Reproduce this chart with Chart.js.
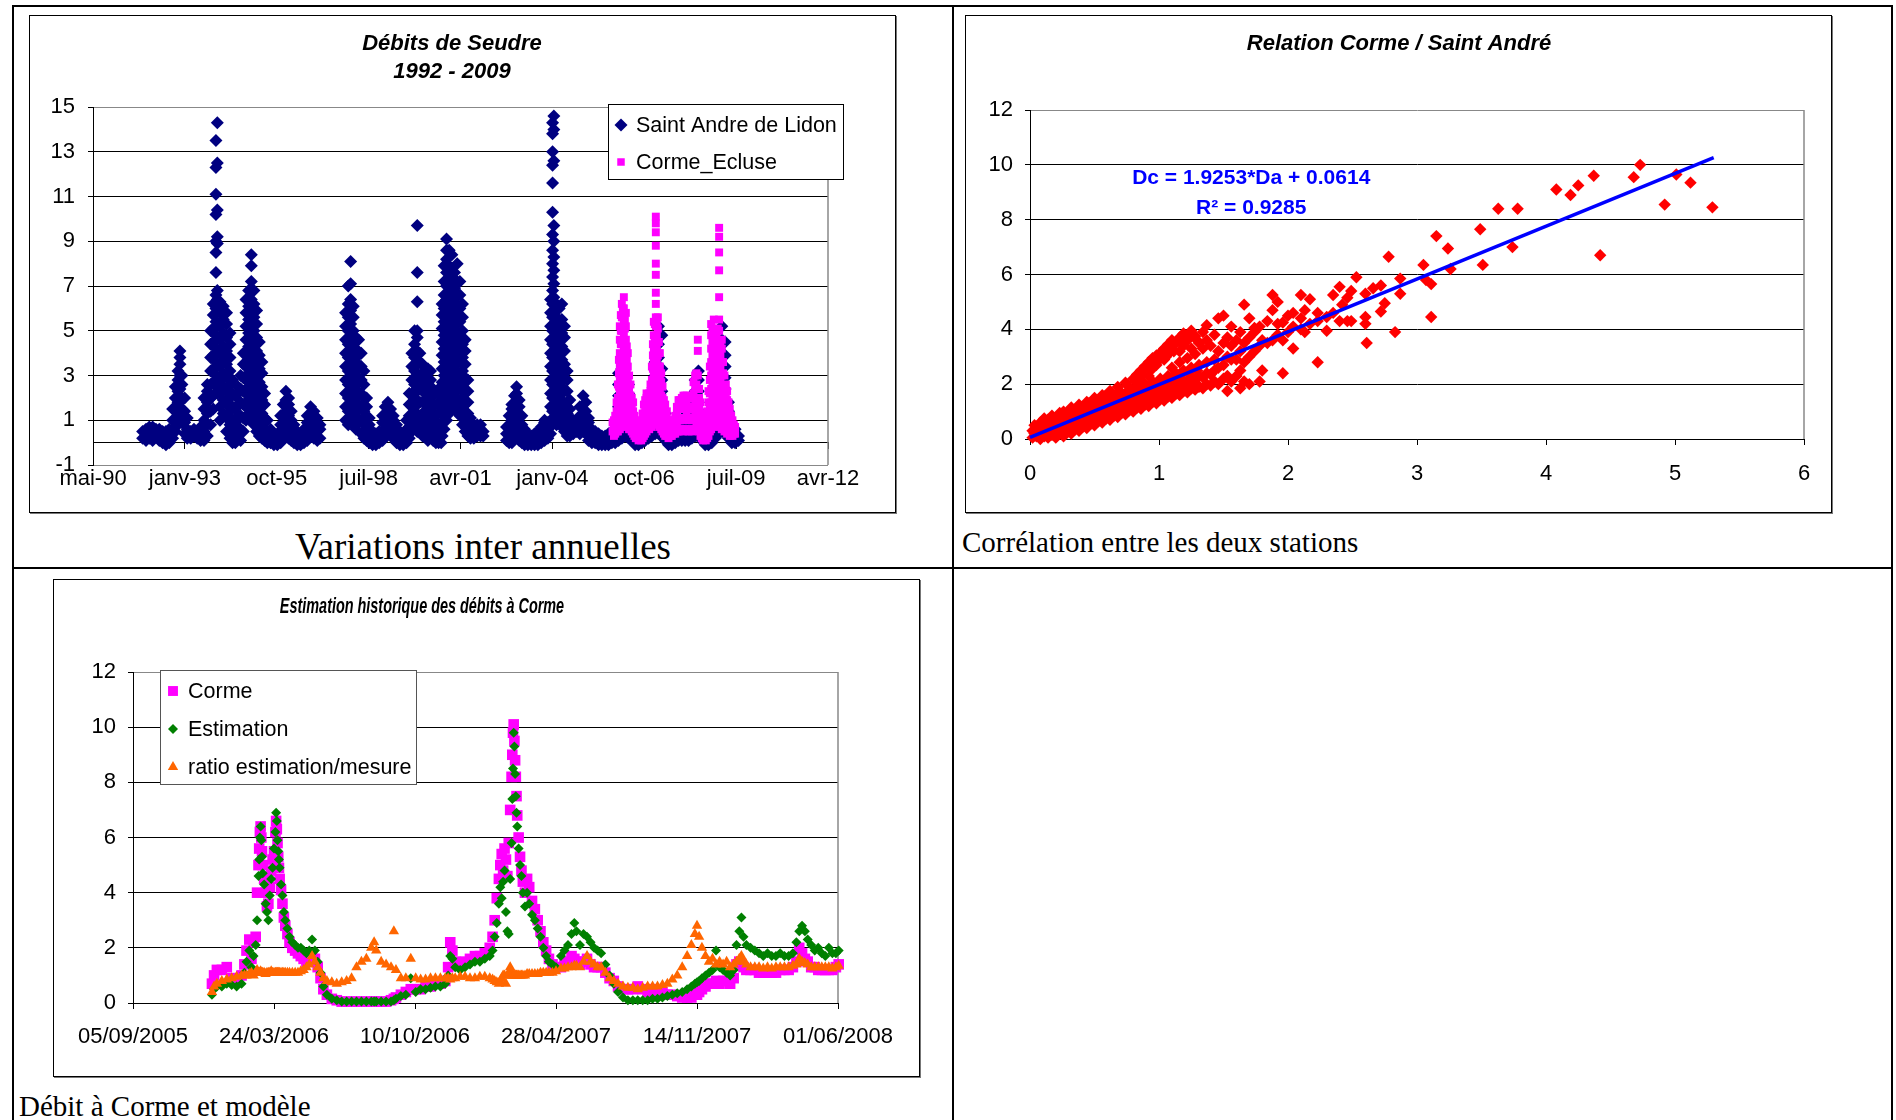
<!DOCTYPE html>
<html><head><meta charset="utf-8">
<script src="https://cdn.jsdelivr.net/npm/chart.js@4/dist/chart.umd.min.js"></script>
<style>
html,body{margin:0;padding:0;background:#fff}
body{position:relative;width:1896px;height:1120px;overflow:hidden}
.ln{position:absolute;background:#000}
.box{position:absolute;border:1px solid #000;box-shadow:1px 1px 0 #777;background:#fff}
canvas{position:absolute}
.cap{position:absolute;font-family:'Liberation Serif','Times New Roman',serif;color:#000;white-space:nowrap;line-height:1}
</style></head><body>
<div class="ln" style="left:12px;top:5px;width:1881px;height:2px"></div>
<div class="ln" style="left:12px;top:5px;width:2px;height:1115px"></div>
<div class="ln" style="left:952px;top:5px;width:2px;height:1115px"></div>
<div class="ln" style="left:1891px;top:5px;width:2px;height:1115px"></div>
<div class="ln" style="left:12px;top:567px;width:1881px;height:2px"></div>

<div class="box" style="left:29px;top:15px;width:865px;height:496px"></div>
<canvas id="c1" width="865" height="496" style="left:30px;top:16px"></canvas>
<div class="box" style="left:965px;top:15px;width:865px;height:496px"></div>
<canvas id="c2" width="865" height="496" style="left:966px;top:16px"></canvas>
<div class="box" style="left:53px;top:579px;width:865px;height:496px"></div>
<canvas id="c3" width="865" height="496" style="left:54px;top:580px"></canvas>

<div class="cap" style="left:14px;width:938px;top:528px;text-align:center;font-size:37px">Variations inter annuelles</div>
<div class="cap" style="left:962px;top:528px;font-size:29px">Corrélation entre les deux stations</div>
<div class="cap" style="left:19px;top:1092px;font-size:29px">Débit à Corme et modèle</div>

<script>
// ---------- Chart 1 : Débits de Seudre (x = Excel day serial) ----------
const labels1 = ['mai-90','janv-93','oct-95','juil-98','avr-01','janv-04','oct-06','juil-09','avr-12'];
// [date serial, flows observed around that date]
const sadSeries = [
[33540,[0.2,0.5]],[33577,[0.1,0.4,0.6]],[33613,[0.2,0.5,0.7]],[33649,[0.1,0.4,0.7]],[33685,[0.3,0.6]],
[33722,[0.1,0.4,0.6]],[33758,[0.0,0.3,0.5]],[33794,[-0.1,0.2,0.5]],[33830,[0.0,0.3,0.6]],[33867,[0.2,0.6,1.0,1.5]],
[33896,[0.5,1.0,1.5,2.0,2.5]],[33925,[0.8,1.3,1.8,2.3,2.8,3.2]],[33946,[1.2,1.8,2.4,3.0,3.5,3.8,4.1]],[33968,[0.9,1.5,2.0,2.6,3.0]],[33997,[0.4,0.9,1.4,2.0]],
[34026,[0.2,0.6,1.1]],[34063,[0.2,0.5]],[34099,[0.3,0.6]],[34135,[0.2,0.5]],[34171,[0.1,0.4,0.7]],
[34208,[0.1,0.5,1.0,1.5,2.0]],[34244,[0.3,0.8,1.3,1.8,2.3,2.6]],[34280,[0.8,1.4,2.0,2.6,3.2,3.8,4.4,5.0]],[34309,[1.5,2.1,2.7,3.3,3.9,4.5,5.1,5.7,6.2]],
[34338,[2.5,3.0,3.6,4.2,4.8,5.4,6.0,6.6,7.6,8.5,9.0,10.2,11.1,12.3,13.5]],
[34353,[2.2,2.8,3.4,4.0,4.6,5.2,5.8,6.4,6.8,8.9,9.2,10.4,12.5,14.3]],
[34382,[1.0,1.6,2.2,2.8,3.4,4.0,4.6,5.2,5.8,6.3]],[34418,[1.3,1.9,2.5,3.1,3.7,4.3,4.9,5.5,6.1]],[34454,[0.5,1.1,1.7,2.3,2.9,3.5,4.1,4.7,5.3,5.8]],
[34491,[0.2,0.8,1.4,2.0,2.6,3.2,3.8,4.4,4.9]],[34519,[0.0,0.5,1.0,1.6,2.2,2.8]],[34549,[0.0,0.4,0.9,1.5,2.1]],[34578,[0.2,0.7,1.2,1.7,2.2,2.5]],
[34607,[0.1,0.6,1.2,1.8,2.4,3.0]],[34636,[0.5,1.1,1.7,2.3,2.9,3.5,4.0]],[34665,[1.0,1.6,2.2,2.8,3.4,4.0,4.6,5.2,5.8,6.4]],
[34694,[1.3,1.9,2.5,3.1,3.7,4.3,4.9,5.5,6.1,6.8]],[34723,[1.0,1.6,2.2,2.8,3.4,4.0,4.6,5.2,5.8,6.4,7.2,7.9,8.4]],
[34752,[0.8,1.4,2.0,2.6,3.2,3.8,4.4,5.0,5.6,6.2,6.8]],[34781,[0.5,1.1,1.7,2.3,2.9,3.5,4.1,4.7,5.3,5.9]],
[34810,[0.3,0.9,1.5,2.1,2.7,3.3,3.9,4.5]],[34839,[0.2,0.7,1.3,1.9,2.5,3.1,3.6]],[34868,[0.1,0.6,1.1,1.7,2.2]],
[34897,[0.0,0.5,1.0]],[34933,[0.0,0.3,0.6]],[34969,[-0.1,0.2,0.4]],[35006,[-0.1,0.2,0.4]],[35042,[0.0,0.4,0.8,1.2]],
[35071,[0.2,0.7,1.2,1.7]],[35100,[0.4,0.9,1.4,1.9,2.3]],[35129,[0.2,0.7,1.2,1.7,2.0]],[35158,[0.1,0.5,1.0,1.4]],[35187,[0.0,0.4,0.8]],
[35223,[-0.1,0.2,0.5]],[35259,[-0.1,0.2,0.4]],[35296,[0.0,0.3,0.6]],[35332,[0.1,0.5,0.9,1.2]],[35368,[0.3,0.8,1.3,1.6]],
[35405,[0.2,0.6,1.0,1.4]],[35441,[0.1,0.5,0.9,1.1]],[35470,[0.2,0.6,0.8]],
[35749,[1.0,1.6,2.2,2.8,3.4,4.0,4.6,5.2,5.8]],[35778,[0.8,1.4,2.0,2.6,3.2,3.8,4.4,5.0,5.6,6.2,7.0]],
[35804,[1.1,1.7,2.3,2.9,3.5,4.1,4.7,5.3,5.9,6.4,7.1,8.1]],[35833,[0.8,1.4,2.0,2.6,3.2,3.8,4.4,5.0,5.6,6.1]],
[35862,[0.6,1.2,1.8,2.4,3.0,3.6,4.2,4.7]],[35891,[0.9,1.5,2.1,2.7,3.3,3.9,4.6]],[35920,[0.4,1.0,1.6,2.2,2.8,3.4,4.0]],
[35949,[0.2,0.8,1.4,2.0,2.6,3.2]],[35978,[0.1,0.6,1.1,1.6,2.0]],[36007,[0.0,0.4,0.8,1.1]],[36043,[-0.1,0.2,0.5]],[36079,[-0.1,0.2,0.4]],
[36115,[0.0,0.3,0.5]],[36152,[0.1,0.5,0.9,1.2]],[36181,[0.3,0.8,1.2,1.6]],[36210,[0.4,0.9,1.4,1.8]],[36239,[0.3,0.7,1.1,1.5]],
[36268,[0.2,0.6,1.0,1.2]],[36304,[0.0,0.4,0.8]],[36340,[-0.1,0.2,0.5]],[36377,[-0.1,0.2,0.4]],[36413,[0.0,0.3,0.6,1.0]],
[36442,[0.2,0.7,1.2,1.7,2.2]],[36471,[0.5,1.0,1.6,2.2,2.8,3.4,4.0]],[36500,[0.8,1.4,2.0,2.6,3.2,3.8,4.4,5.0]],
[36529,[0.5,1.1,1.7,2.3,2.9,3.5,4.1,4.7,5.0,6.3,7.6,9.7]],[36558,[0.6,1.2,1.8,2.4,3.0,3.6,4.0]],[36587,[0.3,0.8,1.3,1.8,2.3,2.8,3.5]],
[36616,[0.4,0.9,1.4,1.9,2.4,2.9,3.3]],[36645,[0.1,0.6,1.1,1.6,2.1,2.6,3.3]],[36674,[0.3,0.8,1.3,1.8,2.3,2.8,3.2]],
[36703,[0.1,0.6,1.1,1.6,2.1,2.4]],[36732,[0.0,0.4,0.8,1.2]],[36761,[0.0,0.4,0.8,1.3,1.8,2.4]],[36790,[0.0,0.5,2.05]],
[36800,[0.3,0.9,1.5,2.1,2.7,3.3,3.9,4.5,5.1,5.7,6.2]],[36822,[0.6,1.2,1.8,2.4,3.0,3.6,4.2,4.8,5.4,6.0,6.6,7.2,7.9]],
[36848,[1.0,1.6,2.2,2.8,3.4,4.0,4.6,5.2,5.8,6.4,7.0,7.6,8.2,8.6,9.1]],[36877,[1.3,1.9,2.5,3.1,3.7,4.3,4.9,5.5,6.1,6.7,7.3,7.9,8.6]],
[36906,[1.8,2.4,3.0,3.6,4.2,4.8,5.4,6.0,6.6,7.2,7.8,8.4]],[36935,[1.5,2.1,2.7,3.3,3.9,4.5,5.1,5.7,6.3,6.9,7.6]],
[36964,[1.8,2.4,3.0,3.6,4.2,4.8,5.4,6.0,6.6,7.2,8.0]],[36993,[1.2,1.8,2.4,3.0,3.6,4.2,4.8,5.4,6.0,6.6,7.2]],
[37022,[0.8,1.4,2.0,2.6,3.2,3.8,4.4,5.0,5.6,6.2]],[37051,[0.5,1.1,1.7,2.3,2.9,3.5,4.1,4.6]],[37080,[0.3,0.8,1.3,1.8,2.3,2.8]],
[37109,[0.2,0.5,0.8,1.1]],[37145,[0.2,0.5,0.8]],[37182,[0.3,0.6,0.8]],[37218,[0.3,0.6,0.8]],[37247,[0.3,0.5]],
[37501,[0.1,0.4,0.7]],[37530,[0.0,0.4,0.8,1.2]],[37559,[0.0,0.5,1.0,1.5,1.7]],[37588,[0.2,0.7,1.2,1.7,2.1]],[37610,[0.3,0.8,1.3,1.8,2.2,2.5]],
[37639,[0.1,0.6,1.1,1.6,1.9]],[37668,[0.0,0.4,0.8,1.2]],[37697,[-0.1,0.3,0.6]],[37733,[-0.1,0.2,0.4]],[37770,[-0.1,0.1,0.3]],
[37806,[-0.1,0.2,0.4]],[37842,[-0.1,0.2,0.5]],[37878,[0.0,0.4,0.7]],[37915,[0.1,0.5,0.9,1.0]],[37951,[0.2,0.6,0.9]],
[37980,[0.4,1.0,1.6,2.2,2.8,3.4,4.0,4.6,5.2,5.8,6.4]],
[38002,[0.8,1.4,2.0,2.6,3.2,3.8,4.4,5.0,5.6,6.2,6.8,7.4,8.0,8.6,9.3,10.3,11.6,12.4,13.0,13.8,14.3]],
[38016,[1.1,1.7,2.3,2.9,3.5,4.1,4.7,5.3,5.9,6.5,7.1,7.7,8.3,9.0,9.7,12.6,14.0,14.6]],
[38045,[0.8,1.4,2.0,2.6,3.2,3.8,4.4,5.0,5.6,6.2]],[38074,[1.1,1.7,2.3,2.9,3.5,4.1,4.7,5.3,6.0]],[38103,[0.7,1.3,1.9,2.5,3.1,3.7,4.3,4.9,5.5,6.2]],
[38132,[0.5,1.1,1.7,2.3,2.9,3.5,4.1,4.7,5.2]],[38161,[0.3,0.8,1.3,1.8,2.3,2.8,3.2]],[38190,[0.3,0.7,1.1,1.5,1.9]],[38227,[0.4,0.7,1.0]],[38263,[0.5,0.8,1.0]],
[38299,[0.4,0.8,1.2,1.6]],[38335,[0.5,1.0,1.5,2.1]],[38364,[0.4,0.9,1.4,1.8]],[38393,[0.1,0.5,0.9,1.1]],[38430,[0.0,0.3,0.6]],
[38466,[0.0,0.3,0.5]],[38502,[-0.1,0.2,0.4]],[38538,[-0.1,0.1,0.3]],[38575,[-0.1,0.1,0.3]],[38611,[-0.1,0.2,0.4]],
[38647,[0.0,0.3,0.5]],[38684,[0.0,0.3,0.6]],[38720,[0.1,0.6,1.1,1.6,2.1,2.6,3.1]],[38756,[0.2,0.7,1.2,1.7,2.2,2.7,3.3]],[38792,[0.3,0.8,1.3,1.8,2.3,2.8]],
[38829,[0.2,0.7,1.2,1.7,2.2,2.6]],[38865,[0.1,0.5,0.9,1.3]],[38901,[-0.1,0.2,0.5]],[38937,[-0.1,0.2,0.4]],[38974,[0.0,0.3,0.6]],
[39010,[0.1,0.5,0.9]],[39046,[0.2,0.6,1.0,1.3]],[39083,[0.3,0.8,1.3,1.8,2.3]],[39119,[0.4,0.9,1.4,1.9,2.4,3.0,3.6]],[39155,[0.4,0.9,1.4,2.0,2.6,3.2,3.8,4.4,5.2]],
[39191,[0.3,0.8,1.3,1.8,2.3,2.8,3.3,4.8]],[39228,[0.1,0.5,0.9,1.3]],[39264,[-0.1,0.2,0.5]],[39300,[-0.1,0.2,0.4]],[39337,[0.0,0.3,0.6]],
[39373,[0.1,0.4,0.7]],[39409,[0.1,0.5,0.9]],[39445,[0.1,0.5,0.9,1.2]],[39482,[0.1,0.5,0.9,1.3]],[39518,[0.2,0.6,1.0,1.5,2.0]],
[39554,[0.3,0.8,1.3,1.8,2.3,2.8]],[39590,[0.3,0.8,1.3,1.8,2.3,2.8,3.2]],[39627,[0.1,0.5,0.9,1.3]],[39663,[-0.1,0.2,0.5]],[39699,[-0.1,0.2,0.5]],
[39735,[0.0,0.4,0.8,1.2]],[39772,[0.2,0.7,1.2,1.7,2.2,2.7]],[39808,[0.4,0.9,1.4,1.9,2.4,2.9,3.4,4.0]],[39844,[0.5,1.0,1.5,2.0,2.5,3.0,3.5,4.0,4.6,5.2]],
[39880,[0.4,0.9,1.4,1.9,2.4,2.9,3.4,3.9,4.5]],[39917,[0.2,0.6,1.0,1.4,1.8]],[39953,[0.0,0.4,0.8]],[39989,[0.0,0.3,0.6]],[40026,[0.1,0.3]]
];
const cormeSeries = [
[38655,[0.5,0.9]],[38670,[0.3,0.7,1.0]],[38684,[0.4,0.8,1.2]],[38699,[0.5,0.9,1.4,1.8]],[38713,[0.5,1.0,1.5,2.0,2.6]],[38724,[0.7,1.3,1.9,2.5,3.1,3.7]],
[38734,[0.6,1.1,1.6,2.2,2.8,3.4,4.0,4.6,5.2]],[38745,[0.8,1.4,2.0,2.6,3.2,3.8,4.4,5.0,5.7]],
[38756,[1.0,1.5,2.0,2.6,3.2,3.8,4.4,5.0,5.6,6.2]],[38767,[0.8,1.4,2.0,2.6,3.2,3.8,4.4,5.0,5.6,6.0]],[38778,[1.2,1.8,2.4,3.0,3.6,4.2,4.8,5.4,6.0,6.5]],
[38789,[0.9,1.5,2.1,2.7,3.3,3.9,4.5,5.1,5.5]],[38800,[1.0,1.6,2.2,2.8,3.4,4.0,4.6,5.2,5.8]],[38810,[0.7,1.3,1.9,2.5,3.1,3.7,4.3]],
[38821,[0.8,1.3,1.8,2.3,2.8,3.4,4.0]],[38835,[0.6,1.2,1.8,2.4,3.0]],[38850,[0.6,1.1,1.6,2.1,2.6]],[38864,[0.5,1.0,1.5,2.0]],[38879,[0.4,0.9,1.4,1.8]],
[38893,[0.3,0.7,1.2]],[38908,[0.2,0.6,1.0]],[38923,[0.2,0.5,0.8]],[38938,[0.1,0.4,0.7]],[38952,[0.2,0.5,0.8]],
[38967,[0.1,0.5,0.8]],[38982,[0.2,0.6,1.0,1.3]],[38996,[0.3,0.8,1.3,1.7]],[39010,[0.4,0.9,1.4,1.9]],[39025,[0.5,1.0,1.5,2.0,2.2]],[39040,[0.7,1.2,1.7,2.1]],
[39054,[0.6,1.1,1.6,2.0,2.2]],[39068,[0.8,1.3,1.8,2.3,2.6]],[39083,[0.7,1.2,1.7,2.2,2.8,3.4]],[39094,[0.9,1.5,2.1,2.7,3.3,3.9,4.4]],
[39104,[0.8,1.3,1.8,2.4,3.0,3.6,4.2,4.8,5.4]],[39115,[1.1,1.7,2.3,2.9,3.5,4.1,4.7,5.3]],
[39126,[1.0,1.6,2.2,2.8,3.4,4.0,4.6,5.2,5.6,6.2,6.7,7.5,8.0,8.8,9.4,9.8,10.1]],[39137,[1.2,1.8,2.4,3.0,3.6,4.2,4.8,5.4]],
[39148,[0.9,1.5,2.1,2.7,3.3,3.9,4.5,5.1,5.6]],[39159,[1.0,1.6,2.2,2.8,3.4,4.0,4.5]],[39170,[0.7,1.2,1.7,2.2,2.8,3.4,4.0]],[39185,[0.6,1.1,1.6,2.1,2.7,3.1]],
[39199,[0.5,1.0,1.5,2.0,2.5]],[39214,[0.4,0.9,1.4,1.9]],[39228,[0.3,0.8,1.3,1.7]],[39246,[0.3,0.7,1.1,1.4]],
[39264,[0.2,0.6,1.0]],[39282,[0.3,0.6,0.9]],[39300,[0.3,0.6,0.9]],[39318,[0.4,0.7,1.0]],[39337,[0.4,0.8,1.2]],[39355,[0.5,0.9,1.3,1.6]],
[39373,[0.5,1.0,1.5,1.9]],[39391,[0.6,1.0,1.5,1.9]],[39409,[0.6,1.1,1.6,2.0]],[39427,[0.5,1.0,1.5,2.1]],[39445,[0.6,1.1,1.6,2.1]],[39463,[0.6,1.2,1.7,2.1]],
[39482,[0.5,1.0,1.5,2.0]],[39500,[0.6,1.1,1.6,2.0]],[39518,[0.5,1.0,1.5,2.0]],[39536,[0.6,1.1,1.6,2.2,2.7]],[39554,[0.6,1.2,1.8,2.4,3.0]],[39568,[0.8,1.4,2.0,2.6,3.1]],
[39583,[0.6,1.2,1.8,2.4,3.0,4.1,4.6]],[39597,[0.5,1.0,1.5,2.0,2.4]],[39612,[0.3,0.8,1.3,1.8]],[39626,[0.2,0.6,1.0,1.3]],
[39641,[0.1,0.5,0.9]],[39655,[0.2,0.5,0.8]],[39670,[0.1,0.4,0.7]],[39685,[0.2,0.6,1.0,1.4]],[39699,[0.3,0.8,1.3,1.8,2.3]],[39714,[0.5,1.0,1.6,2.2,2.8,3.4]],
[39728,[0.6,1.2,1.8,2.4,3.0,3.6,4.2,4.8,5.3]],[39742,[0.9,1.5,2.1,2.7,3.3,3.9,4.5,5.1]],[39757,[0.8,1.4,2.0,2.6,3.2,3.8,4.4,5.0,5.5]],[39771,[1.0,1.6,2.2,2.8,3.4,4.0,4.6]],
[39786,[0.7,1.3,1.9,2.5,3.1,3.7,4.3,4.8]],[39800,[0.9,1.5,2.1,2.7,3.3,3.9,4.5,5.1]],[39815,[0.8,1.4,2.0,2.6,3.2,3.8,4.4,5.0,5.5,6.5,7.7,8.5,9.2,9.6]],
[39829,[0.9,1.5,2.1,2.7,3.3,3.9,4.4]],[39844,[0.6,1.2,1.8,2.4,3.0,3.6,4.2,4.6]],[39858,[0.7,1.3,1.9,2.5,3.1,3.6]],
[39873,[0.5,1.0,1.5,2.0,2.5,3.0]],[39888,[0.6,1.1,1.6,2.1,2.6]],[39902,[0.4,0.9,1.4,1.9,2.3]],[39917,[0.5,0.9,1.3,1.8]],[39931,[0.3,0.7,1.1,1.5]],
[39946,[0.4,0.8,1.2]],[39960,[0.3,0.6,1.0]],[39975,[0.4,0.8]],[39989,[0.4,0.7]]
];

// ---------- Chart 2 : Relation Corme / Saint André ----------
// [Da (Saint André), Dc values (Corme) read at that Da]
const corrSeries = [
[0.02,[0.05,0.3]],[0.05,[0.1,0.45]],[0.08,[0.0,0.3,0.6]],[0.11,[0.1,0.45,0.75]],[0.14,[0.05,0.35,0.7]],
[0.17,[0.15,0.5,0.85]],[0.2,[0.05,0.4,0.75]],[0.23,[0.2,0.55,0.95]],[0.26,[0.1,0.45,0.8,1.0]],[0.29,[0.25,0.6,0.95]],
[0.32,[0.2,0.55,0.9,1.15]],[0.35,[0.35,0.7,1.05]],[0.38,[0.3,0.65,1.0,1.25]],[0.41,[0.45,0.8,1.15]],[0.44,[0.4,0.75,1.1,1.35]],
[0.47,[0.55,0.9,1.25]],[0.5,[0.5,0.85,1.2,1.5]],[0.53,[0.65,1.0,1.35]],[0.56,[0.6,0.95,1.3,1.6]],[0.59,[0.75,1.1,1.45]],
[0.62,[0.7,1.05,1.4,1.75]],[0.65,[0.85,1.2,1.55]],[0.68,[0.8,1.15,1.5,1.9]],[0.71,[0.95,1.3,1.65]],[0.74,[0.9,1.25,1.6,2.05]],
[0.77,[1.05,1.4,1.8]],[0.8,[1.0,1.35,1.7,2.2]],[0.83,[1.15,1.5,1.9,2.35]],[0.86,[1.1,1.45,1.8,2.15,2.5]],[0.89,[1.25,1.6,2.0,2.65]],
[0.92,[1.2,1.55,1.9,2.3,2.8]],[0.95,[1.35,1.7,2.1,2.95]],[0.98,[1.3,1.65,2.0,2.7,3.05]],[1.01,[1.45,1.8,2.2,3.15]],[1.04,[1.4,1.75,2.1,2.9,3.3]],
[1.07,[1.55,1.9,2.3,3.1,3.45]],[1.1,[1.5,1.85,2.2,2.6,3.3,3.6]],[1.13,[1.65,2.0,2.4,3.5]],[1.16,[1.6,1.95,2.35,2.8,3.2,3.7]],[1.19,[1.75,2.1,2.5,3.4,3.85]],
[1.22,[1.7,2.05,2.45,2.95,3.6]],[1.25,[1.85,2.2,2.6,3.3,3.95]],[1.28,[1.8,2.15,3.1,3.75]],[1.31,[1.9,2.3,2.7,3.5]],[1.34,[1.85,2.25,3.3,3.9]],
[1.37,[2.0,2.4,2.8,3.6,4.15]],[1.4,[1.95,2.35,3.4]],[1.43,[2.1,2.5,2.9,3.8]],[1.46,[2.0,2.6,3.2,4.4]],[1.5,[2.2,2.7,3.5,4.5]],
[1.53,[1.75,2.3,3.0,3.7]],[1.56,[2.1,2.9,3.4,4.1]],[1.6,[2.3,2.9,3.6]],[1.63,[1.85,2.5,3.2,3.9]],[1.66,[2.1,2.8,3.5,4.9]],
[1.7,[2.0,3.0,3.7,4.4]],[1.74,[3.2,3.9,4.05]],[1.78,[2.1,3.4,4.1]],[1.8,[2.5,3.6]],[1.84,[3.5,4.3]],
[1.88,[3.6,4.7,5.25]],[1.92,[3.8,4.2,5.0]],[1.96,[2.4,3.6,4.25]],[2.0,[3.9,4.5]],[2.04,[3.3,4.1,4.6]],
[2.1,[4.0,4.4,5.25]],[2.13,[3.9,4.7]],[2.17,[4.2,5.1]],[2.23,[2.8,4.3,4.6]],[2.3,[3.95,4.45]],
[2.35,[4.6,5.25]],[2.4,[4.3,5.55]],[2.42,[4.9]],[2.46,[4.3,5.15]],[2.49,[4.3,5.4]],
[2.53,[5.9]],[2.6,[4.2,4.45,5.3]],[2.61,[3.5]],[2.66,[5.5]],[2.72,[4.65,5.6]],
[2.75,[4.95]],[2.78,[6.65]],[2.83,[3.9]],[2.87,[5.3,5.85]],[3.05,[6.35]],
[3.07,[5.8]],[3.11,[4.45,5.65]],[3.15,[7.4]],[3.24,[6.95]],[3.26,[6.2]],
[3.49,[7.65]],[3.51,[6.35]],[3.63,[8.4]],[3.74,[7.0]],[3.78,[8.4]],
[4.08,[9.1]],[4.19,[8.9]],[4.25,[9.25]],[4.37,[9.6]],[4.42,[6.7]],
[4.68,[9.55]],[4.73,[10.0]],[4.92,[8.55]],[5.01,[9.65]],[5.12,[9.35]],[5.29,[8.45]],
[0.035,[0.2,0.5]],[0.095,[0.15,0.5]],[0.155,[0.25,0.6]],[0.215,[0.3,0.65]],[0.275,[0.35,0.7]],[0.335,[0.4,0.75,1.0]],
[0.395,[0.5,0.85,1.15]],[0.455,[0.6,0.95,1.3]],[0.515,[0.7,1.05,1.4]],[0.575,[0.8,1.15,1.55]],[0.635,[0.9,1.25,1.65]],
[0.695,[1.0,1.35,1.75]],[0.755,[1.1,1.5,1.95]],[0.815,[1.2,1.6,2.1]],[0.875,[1.3,1.7,2.35]],[0.935,[1.4,1.8,2.5]],
[0.995,[1.5,1.9,2.85]],[1.055,[1.6,2.0,3.0]],[1.115,[1.7,2.1,3.2]],[1.175,[1.8,2.2,3.5]],[1.235,[1.9,2.35,3.7]],[1.295,[2.0,2.5,3.6]]
];
const trendSlope = 1.9253, trendIntercept = 0.0614;
const trendX = [0, 5.3];

// ---------- Chart 3 : Estimation historique des débits à Corme ----------
const labels3 = ['05/09/2005','24/03/2006','10/10/2006','28/04/2007','14/11/2007','01/06/2008'];
const dates3 = [
38712,38715,38719,38726,38733,38740,38747,38754,38758,38761,
38765,38768,38771,38774,38776,38778,38779,38780,38781,38782,
38783,38784,38786,38788,38790,38792,38794,38796,38798,38800,
38802,38803,38804,38805,38806,38807,38808,38810,38812,38814,
38816,38819,38822,38826,38830,38834,38838,38842,38846,38850,
38854,38858,38862,38866,38870,38875,38882,38889,38896,38903,
38910,38917,38924,38931,38938,38942,38945,38952,38959,38966,
38970,38973,38980,38987,38994,39001,39008,39015,39022,39029,
39036,39043,39047,39050,39053,39057,39064,39071,39078,39085,
39092,39099,39106,39110,39113,39116,39119,39121,39123,39125,
39127,39129,39131,39133,39135,39137,39138,39139,39140,39141,
39142,39143,39144,39145,39147,39149,39151,39153,39156,39159,
39162,39166,39170,39174,39178,39182,39186,39190,39195,39200,
39207,39212,39217,39222,39226,39229,39234,39239,39244,39249,
39254,39259,39264,39270,39276,39282,39288,39295,39302,39309,
39316,39323,39330,39337,39344,39351,39358,39365,39372,39379,
39386,39392,39397,39400,39403,39407,39412,39417,39422,39427,
39432,39437,39442,39447,39452,39456,39460,39463,39466,39470,
39476,39482,39488,39494,39500,39506,39512,39518,39524,39530,
39536,39541,39545,39549,39553,39557,39562,39567,39572,39577,
39582,39587,39592,39597,39601];
const corme3 = [
0.7,1.0,1.2,1.2,1.3,0.9,0.9,1.0,1.4,1.9,
2.3,1.6,2.2,2.4,4.0,5.0,5.6,6.2,6.4,6.0,
5.5,5.0,4.5,4.0,3.5,3.6,4.2,4.8,5.2,5.5,
6.2,6.6,6.3,5.8,5.3,4.9,4.5,4.1,3.6,3.1,
2.8,2.5,2.2,2.0,1.9,1.8,1.7,1.6,1.5,1.6,
1.8,1.6,1.3,0.9,0.5,0.3,0.15,0.1,0.05,0.05,
0.05,0.05,0.05,0.05,0.05,0.05,0.05,0.05,0.05,0.1,
0.15,0.2,0.3,0.4,0.5,0.5,0.5,0.6,0.6,0.7,
0.7,0.8,1.3,2.2,1.9,1.5,1.4,1.5,1.6,1.7,
1.7,1.8,2.0,2.4,3.0,3.8,4.5,5.0,5.4,4.8,
5.6,5.2,4.6,5.8,7.0,8.2,9.0,9.8,10.1,9.5,
8.8,8.2,7.5,6.8,6.0,5.3,4.8,4.4,4.0,4.5,
4.2,3.7,3.4,3.0,2.6,2.2,1.9,1.6,1.4,1.3,
1.3,1.4,1.5,1.7,1.6,1.5,1.4,1.5,1.6,1.4,
1.3,1.3,1.3,1.1,0.9,0.8,0.6,0.5,0.5,0.5,
0.6,0.5,0.4,0.5,0.4,0.4,0.3,0.3,0.25,0.2,
0.2,0.2,0.3,0.3,0.4,0.5,0.6,0.7,0.7,0.8,
0.7,0.8,0.8,0.7,0.9,1.4,1.5,1.4,1.3,1.2,
1.2,1.2,1.1,1.1,1.1,1.1,1.1,1.2,1.2,1.2,
1.3,1.5,2.0,1.8,1.6,1.5,1.3,1.3,1.2,1.2,
1.2,1.2,1.2,1.3,1.4];
const estim3 = [
0.3,0.5,0.6,0.6,0.7,0.65,0.6,0.7,1.1,1.5,
1.9,1.3,1.7,2.1,3.0,4.6,5.2,6.0,6.4,5.9,
5.3,4.7,4.3,3.6,3.3,3.0,3.9,4.5,4.9,5.6,
6.2,6.9,6.6,5.9,5.5,5.2,4.9,4.3,3.9,3.3,
3.0,2.7,2.4,2.2,2.1,2.0,2.0,1.9,1.8,1.9,
2.3,1.9,1.5,1.1,0.6,0.3,0.15,0.1,0.05,0.05,
0.05,0.05,0.05,0.05,0.05,0.05,0.05,0.05,0.05,0.05,
0.1,0.15,0.25,0.3,0.9,0.4,0.5,0.5,0.55,0.6,
0.6,0.7,1.0,1.7,1.6,1.3,1.2,1.3,1.4,1.5,
1.5,1.6,1.7,1.9,2.4,2.9,3.6,4.2,3.8,4.4,
4.8,3.3,2.6,2.5,4.5,5.8,7.4,8.5,9.8,9.3,
8.3,7.5,6.9,6.4,5.6,5.0,4.6,4.0,3.5,4.0,
3.6,3.2,3.0,2.7,2.4,2.0,1.7,1.5,1.4,1.3,
1.7,1.9,2.1,2.5,2.9,2.6,2.1,2.5,2.4,2.2,
2.0,1.9,1.8,1.4,1.0,0.7,0.4,0.2,0.1,0.1,
0.1,0.1,0.1,0.15,0.15,0.2,0.25,0.3,0.35,0.4,
0.5,0.6,0.7,0.75,0.8,0.9,1.0,1.1,1.2,1.9,
1.3,1.2,1.1,1.0,1.2,2.1,2.6,3.1,2.4,2.1,
2.0,1.9,1.8,1.7,1.8,1.7,1.7,1.8,1.7,1.7,
1.8,2.2,2.6,2.8,2.6,2.3,2.1,1.9,2.0,1.8,
1.7,2.0,1.8,1.8,1.9];
const ratio3 = [
0.4,0.6,0.7,0.8,0.85,0.9,0.95,1.0,1.0,1.0,
1.05,1.1,1.0,1.1,1.2,1.1,1.1,1.1,1.15,1.1,
1.1,1.1,1.1,1.05,1.1,1.1,1.1,1.15,1.1,1.1,
1.1,1.1,1.1,1.1,1.1,1.1,1.1,1.1,1.1,1.1,
1.1,1.1,1.1,1.1,1.1,1.1,1.15,1.2,1.3,1.4,
1.7,1.5,1.3,1.1,0.9,0.8,0.75,0.7,0.75,0.8,
0.9,1.3,1.5,1.6,2.0,2.2,1.9,1.5,1.4,1.3,
2.6,1.2,0.9,0.9,1.6,0.9,0.85,0.85,0.9,0.9,
0.9,0.9,0.9,0.85,0.9,0.9,0.95,0.95,0.9,0.9,
0.95,0.95,0.9,0.85,0.8,0.75,0.7,0.8,0.9,1.0,
1.0,0.7,1.0,1.1,1.3,1.1,1.0,1.0,1.0,1.0,
1.0,1.0,1.0,1.0,1.0,1.0,1.0,1.0,1.0,1.05,
1.05,1.05,1.05,1.05,1.1,1.1,1.1,1.1,1.1,1.15,
1.25,1.25,1.3,1.3,1.35,1.35,1.3,1.5,1.7,1.5,
1.4,1.3,1.3,1.1,0.9,0.8,0.7,0.6,0.55,0.55,
0.5,0.55,0.6,0.6,0.6,0.65,0.7,0.85,1.0,1.3,
1.7,2.1,2.5,2.8,2.4,2.0,1.7,1.5,1.6,1.4,
1.5,1.4,1.5,1.3,1.4,1.5,1.6,1.7,1.5,1.4,
1.3,1.3,1.3,1.25,1.3,1.25,1.3,1.3,1.3,1.3,
1.35,1.4,1.6,1.5,1.45,1.4,1.3,1.3,1.3,1.3,
1.3,1.3,1.25,1.3,1.35];

// ---------- helpers ----------
const F = "'Liberation Sans', Arial, Helvetica, sans-serif";
const columnsToPoints = s => s.flatMap(([x, vals]) => vals.map(y => ({x, y})));
const seriesToPoints = (xs, ys) => xs.map((x, i) => ({x, y: ys[i]}));

const plotFrame = {
  id: 'plotFrame',
  beforeDatasetsDraw(chart, args, o) {
    const {ctx, chartArea: a} = chart;
    ctx.save(); ctx.strokeStyle = o.color || '#888'; ctx.lineWidth = 1.5;
    ctx.beginPath(); ctx.moveTo(a.right, a.top); ctx.lineTo(a.right, a.bottom); ctx.stroke();
    ctx.restore();
  }
};
const boxLegend = {
  id: 'boxLegend',
  afterDatasetsDraw(chart, args, o) {
    if (!o || !o.rows) return;
    const ctx = chart.ctx;
    ctx.save();
    ctx.fillStyle = '#fff'; ctx.fillRect(o.x, o.y, o.w, o.h);
    ctx.strokeStyle = o.border; ctx.lineWidth = 1; ctx.strokeRect(o.x + 0.5, o.y + 0.5, o.w, o.h);
    ctx.font = o.font; ctx.textBaseline = 'middle'; ctx.textAlign = 'left';
    chart.data.datasets.forEach((ds, i) => {
      if (o.rows[i] === undefined) return;
      const y = o.y + o.rows[i];
      ctx.fillStyle = ds.pointBackgroundColor;
      Chart.helpers.drawPoint(ctx, {pointStyle: ds.pointStyle, radius: o.markerRadius ? o.markerRadius[i] : ds.pointRadius, borderWidth: 0, rotation: 0}, o.markerX, y);
      ctx.fillStyle = '#000';
      ctx.fillText(ds.label, o.textX, y + 1);
    });
    ctx.restore();
  }
};
const textTitle = {
  id: 'textTitle',
  afterDraw(chart, args, o) {
    if (!o || !o.lines) return;
    const ctx = chart.ctx;
    ctx.save(); ctx.font = o.font; ctx.fillStyle = '#000'; ctx.textAlign = 'center'; ctx.textBaseline = 'middle';
    o.lines.forEach((t, i) => {
      ctx.save(); ctx.translate(o.x, o.y + i * (o.lineGap || 0)); ctx.scale(o.scaleX || 1, 1); ctx.fillText(t, 0, 0); ctx.restore();
    });
    ctx.restore();
  }
};
const eqLabel = {
  id: 'eqLabel',
  afterDatasetsDraw(chart, args, o) {
    if (!o || !o.lines) return;
    const {ctx, scales} = chart;
    ctx.save(); ctx.font = o.font; ctx.fillStyle = o.color; ctx.textAlign = 'center'; ctx.textBaseline = 'middle';
    o.lines.forEach(l => ctx.fillText(l.text, scales.x.getPixelForValue(l.x), scales.y.getPixelForValue(l.y)));
    ctx.restore();
  }
};

const base = {responsive: false, animation: false, devicePixelRatio: 1, events: []};
const tickFont = {family: F, size: 22};
const gridCol = (lo, hi) => c => (c.tick && (c.tick.value === hi || c.tick.value === lo)) ? '#888' : '#000';

// ---------- Chart 1 ----------
new Chart(document.getElementById('c1'), {
  type: 'scatter',
  data: {datasets: [
    {label: 'Saint Andre de Lidon', data: columnsToPoints(sadSeries), pointStyle: 'rectRot', pointRadius: 6.5,
     pointBackgroundColor: '#000080', backgroundColor: '#000080', pointBorderWidth: 0, borderWidth: 0, order: 1, clip: false, xAxisID: 'x', yAxisID: 'y'},
    {label: 'Corme_Ecluse', data: columnsToPoints(cormeSeries), pointStyle: 'rect', pointRadius: 5.6,
     pointBackgroundColor: '#FF00FF', backgroundColor: '#FF00FF', pointBorderWidth: 0, borderWidth: 0, order: 0, clip: false, xAxisID: 'x', yAxisID: 'y'}
  ]},
  options: Object.assign({}, base, {
    layout: {padding: {left: 0, right: 67, top: 91, bottom: 0}},
    plugins: {
      legend: {display: false}, tooltip: {enabled: false}, title: {display: false},
      textTitle: {lines: ['Débits de Seudre', '1992 - 2009'], font: 'italic bold 22px ' + F, x: 422, y: 28, lineGap: 28},
      boxLegend: {x: 578, y: 88, w: 235, h: 75, border: '#000', markerX: 591, textX: 606, rows: [21, 58], markerRadius: [6.5, 5.3], font: '21.5px ' + F},
      plotFrame: {color: '#888'}
    },
    scales: {
      x: {type: 'linear', position: 'bottom', min: 33000, max: 41000,
          ticks: {stepSize: 1000, autoSkip: false, maxRotation: 0, padding: 1, font: tickFont, color: '#000', callback: (v, i) => labels1[i]},
          grid: {display: false, drawTicks: false}, border: {display: false},
          afterFit: s => { s.height = 47; }},
      x0: {type: 'linear', axis: 'x', position: {y: 0}, min: 33000, max: 41000,
          ticks: {display: false, stepSize: 1000},
          grid: {display: true, drawOnChartArea: false, drawTicks: true, tickLength: 6, color: '#000'},
          border: {display: true, color: '#000', width: 1}},
      y: {type: 'linear', position: 'left', min: -1, max: 15,
          ticks: {stepSize: 2, padding: 13, font: tickFont, color: '#000'},
          grid: {color: gridCol(-1, 15), drawTicks: true, tickLength: 5, tickColor: '#000'},
          border: {display: true, color: '#000'},
          afterFit: s => { s.width = 63; }}
    }
  }),
  plugins: [plotFrame, boxLegend, textTitle]
});

// ---------- Chart 2 ----------
new Chart(document.getElementById('c2'), {
  type: 'scatter',
  data: {datasets: [
    {label: 'Corme / Saint André', data: columnsToPoints(corrSeries), pointStyle: 'rectRot', pointRadius: 6.2,
     pointBackgroundColor: '#FF0000', backgroundColor: '#FF0000', pointBorderWidth: 0, borderWidth: 0, order: 1, clip: false},
    {type: 'line', label: 'Linéaire', data: trendX.map(x => ({x, y: trendSlope * x + trendIntercept})),
     borderColor: '#0000FF', borderWidth: 3.5, pointRadius: 0, fill: false, order: 0, clip: false}
  ]},
  options: Object.assign({}, base, {
    layout: {padding: {left: 0, right: 27, top: 94, bottom: 0}},
    plugins: {
      legend: {display: false}, tooltip: {enabled: false}, title: {display: false},
      textTitle: {lines: ['Relation Corme / Saint André'], font: 'italic bold 22px ' + F, x: 433, y: 28},
      eqLabel: {font: 'bold 21px ' + F, color: '#0000FF',
                lines: [{text: 'Dc = 1.9253*Da + 0.0614', x: 1.715, y: 9.51}, {text: 'R² = 0.9285', x: 1.715, y: 8.42}]},
      plotFrame: {color: '#888'}
    },
    scales: {
      x: {type: 'linear', position: 'bottom', min: 0, max: 6,
          ticks: {stepSize: 1, autoSkip: false, maxRotation: 0, padding: 16, font: tickFont, color: '#000'},
          grid: {display: true, drawOnChartArea: false, drawTicks: true, tickLength: 6, color: '#000'},
          border: {display: true, color: '#000'},
          afterFit: s => { s.height = 73; }},
      y: {type: 'linear', position: 'left', min: 0, max: 12,
          ticks: {stepSize: 2, padding: 12, font: tickFont, color: '#000'},
          grid: {color: gridCol(-99, 12), drawTicks: true, tickLength: 5, tickColor: '#000'},
          border: {display: true, color: '#000'},
          afterFit: s => { s.width = 64; }}
    }
  }),
  plugins: [plotFrame, eqLabel, textTitle]
});

// ---------- Chart 3 ----------
new Chart(document.getElementById('c3'), {
  type: 'scatter',
  data: {datasets: [
    {label: 'Corme', data: seriesToPoints(dates3, corme3), pointStyle: 'rect', pointRadius: 7.5,
     pointBackgroundColor: '#FF00FF', backgroundColor: '#FF00FF', pointBorderWidth: 0, borderWidth: 0, order: 2, clip: false},
    {label: 'Estimation', data: seriesToPoints(dates3, estim3), pointStyle: 'rectRot', pointRadius: 5,
     pointBackgroundColor: '#008000', backgroundColor: '#008000', pointBorderWidth: 0, borderWidth: 0, order: 1, clip: false},
    {label: 'ratio estimation/mesure', data: seriesToPoints(dates3, ratio3), pointStyle: 'triangle', pointRadius: 6,
     pointBackgroundColor: '#FF6600', backgroundColor: '#FF6600', pointBorderWidth: 0, borderWidth: 0, order: 0, clip: false}
  ]},
  options: Object.assign({}, base, {
    layout: {padding: {left: 0, right: 81, top: 92, bottom: 0}},
    plugins: {
      legend: {display: false}, tooltip: {enabled: false}, title: {display: false},
      textTitle: {lines: ['Estimation historique des débits à Corme'], font: 'italic bold 22px ' + F, x: 368, y: 27, scaleX: 0.655},
      boxLegend: {x: 106, y: 90, w: 256, h: 114, border: '#555', markerX: 119, textX: 134, rows: [21, 59, 97], markerRadius: [7, 5, 6], font: '21.5px ' + F},
      plotFrame: {color: '#888'}
    },
    scales: {
      x: {type: 'linear', position: 'bottom', min: 38600, max: 39600,
          ticks: {stepSize: 200, autoSkip: false, maxRotation: 0, padding: 15, font: tickFont, color: '#000', callback: (v, i) => labels3[i]},
          grid: {display: true, drawOnChartArea: false, drawTicks: true, tickLength: 6, color: '#000'},
          border: {display: true, color: '#000'},
          afterFit: s => { s.height = 73; }},
      y: {type: 'linear', position: 'left', min: 0, max: 12,
          ticks: {stepSize: 2, padding: 12, font: tickFont, color: '#000'},
          grid: {color: gridCol(-99, 12), drawTicks: true, tickLength: 5, tickColor: '#000'},
          border: {display: true, color: '#000'},
          afterFit: s => { s.width = 79; }}
    }
  }),
  plugins: [plotFrame, boxLegend, textTitle]
});
</script>
</body></html>
